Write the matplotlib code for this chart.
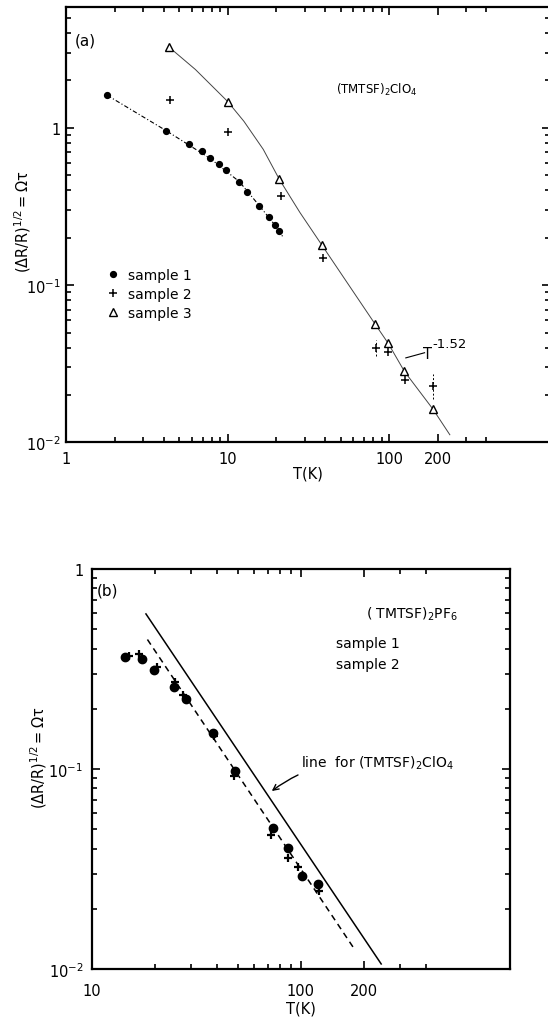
import matplotlib
matplotlib.use("Agg")
import matplotlib.pyplot as plt
from matplotlib.ticker import FixedLocator, FixedFormatter, NullFormatter, LogLocator

plt.rcParams["font.family"] = ["DejaVu Sans"]
plt.rcParams["mathtext.default"] = "regular"

# ── panel (a): (TMTSF)2ClO4 ─────────────────────────────────────────────
a_s1_T = [1.79, 4.15, 5.73, 6.89, 7.76, 8.79, 9.75, 11.8, 13.1, 15.7, 17.9, 19.7, 20.9]
a_s1_v = [1.61, 0.96, 0.79, 0.71, 0.64, 0.585, 0.54, 0.455, 0.39, 0.32, 0.273, 0.241, 0.222]
a_s2_T = [4.36, 10.1, 21.4, 38.7, 82.4, 98.0, 126.0, 187.0]
a_s2_v = [1.50, 0.94, 0.37, 0.149, 0.040, 0.0375, 0.0248, 0.023]
a_s3_T = [4.31, 9.99, 20.9, 38.3, 81.5, 98.6, 124.5, 187.0]
a_s3_v = [3.27, 1.47, 0.47, 0.18, 0.057, 0.0428, 0.0283, 0.0163]

# drawn guide lines
a_fit1_T = [1.79, 4.15, 7.76, 11.8, 15.7, 20.9, 22.1]
a_fit1_v = [1.61, 0.96, 0.64, 0.455, 0.32, 0.222, 0.20]
a_fit3_T = [4.31, 6.3, 9.99, 12.6, 16.6, 20.9, 28.0, 38.3, 81.5, 98.6, 124.5, 187.0, 238.0]
a_fit3_v = [3.27, 2.35, 1.47, 1.10, 0.73, 0.47, 0.29, 0.18, 0.057, 0.0428, 0.0283, 0.0163, 0.0112]

# vertical uncertainty bars on sample 2
a_err_T = [82.4, 187.0]
a_err_lo = [0.0357, 0.0189]
a_err_hi = [0.0446, 0.0273]

# ── panel (b): (TMTSF)2PF6 ──────────────────────────────────────────────
b_s1_T = [14.4, 17.4, 19.9, 24.8, 28.3, 38.2, 48.5, 73.4, 87.3, 102.0, 121.6]
b_s1_v = [0.361, 0.354, 0.313, 0.257, 0.225, 0.151, 0.098, 0.0505, 0.0405, 0.0292, 0.0267]
b_s2_T = [15.1, 16.9, 20.5, 25.1, 27.5, 38.5, 48.2, 71.9, 87.3, 97.5, 123.0]
b_s2_v = [0.368, 0.375, 0.325, 0.272, 0.234, 0.147, 0.0925, 0.0468, 0.036, 0.0322, 0.0245]

b_fit_T = [18.5, 178.0]
b_fit_v = [0.444, 0.0129]
b_clo4_T = [18.2, 243.0]
b_clo4_v = [0.596, 0.0106]

YLABEL = r"$(\Delta R/R)^{1/2} = \Omega\tau$"


def style_axes(ax, xmajor, xlabels, xminor, xpad, ypad):
    ax.set_xscale("log"); ax.set_yscale("log")
    ax.xaxis.set_major_locator(FixedLocator(xmajor))
    ax.xaxis.set_major_formatter(FixedFormatter(xlabels))
    ax.xaxis.set_minor_locator(FixedLocator(xminor))
    ax.xaxis.set_minor_formatter(NullFormatter())
    ax.yaxis.set_major_locator(FixedLocator([0.01, 0.1, 1]))
    ax.yaxis.set_major_formatter(FixedFormatter([r"$10^{-2}$", r"$10^{-1}$", "1"]))
    ax.yaxis.set_minor_locator(LogLocator(base=10, subs=range(2, 10)))
    ax.yaxis.set_minor_formatter(NullFormatter())
    ax.tick_params(which="both", direction="in", top=True, right=True, width=1.2)
    ax.tick_params(which="major", length=6)
    ax.tick_params(which="minor", length=3.5)
    ax.tick_params(axis="x", pad=xpad, labelsize=10.5)
    ax.tick_params(axis="y", pad=ypad, labelsize=10.5)
    for sp in ax.spines.values():
        sp.set_linewidth(1.6)


fig = plt.figure(figsize=(5.48, 10.2), dpi=100)

# ── (a) ──
ax = fig.add_axes([66.4 / 548, 0.5652, 484.0 / 548, 0.4267])
ax.plot(a_fit1_T, a_fit1_v, color="black", lw=0.8, ls=(0, (4, 2, 1, 2)))
ax.plot(a_fit3_T, a_fit3_v, color="#444444", lw=0.7)
for t, lo, hi in zip(a_err_T, a_err_lo, a_err_hi):
    ax.plot([t, t], [lo, hi], color="black", lw=0.7, ls=(0, (2, 2)))
ax.plot(a_s1_T, a_s1_v, "o", color="black", ms=4.2, ls="none", label="sample 1")
ax.plot(a_s2_T, a_s2_v, "+", color="black", ms=5.5, mew=1.1, ls="none", label="sample 2")
ax.plot(a_s3_T, a_s3_v, "^", mfc="white", mec="black", ms=5.5, mew=1.0, ls="none", label="sample 3")
ax.set_xlim(1, 1000); ax.set_ylim(0.01, 5.84)
style_axes(ax, [1, 10, 100, 200], ["1", "10", "100", "200"],
           [2, 3, 4, 5, 6, 7, 8, 9, 20, 30, 40, 50, 60, 70, 80, 90, 300, 400], 6, 4)
ax.set_xlabel("T(K)", fontsize=10.5, labelpad=0)
ax.set_ylabel(YLABEL, fontsize=10.5)
ax.yaxis.set_label_coords(-0.069, 0.51)
ax.text(1.13, 3.62, "(a)", fontsize=11, ha="left", va="center")
ax.text(47, 1.77, r"(TMTSF)$_2$ClO$_4$", fontsize=8.5, ha="left", va="center")
ax.plot([127, 166], [0.0345, 0.0372], color="black", lw=0.8)
ax.text(162, 0.0367, "T", fontsize=10.5, ha="left", va="center")
ax.text(185, 0.0425, "-1.52", fontsize=9.5, ha="left", va="center")
ax.legend(loc="upper left", bbox_to_anchor=(0.087, 0.402), frameon=False, fontsize=10,
          handlelength=0.7, handletextpad=0.7, labelspacing=0.38, borderpad=0,
          borderaxespad=0)

# ── (b) ──
bx = fig.add_axes([91.6 / 548, 0.0490, 418 / 548, 0.3922])
bx.plot(b_clo4_T, b_clo4_v, color="black", lw=1.1)
bx.plot(b_fit_T, b_fit_v, color="black", lw=1.1, ls=(0, (4, 3)))
bx.plot(b_s1_T, b_s1_v, "o", color="black", ms=6, ls="none")
bx.plot(b_s2_T, b_s2_v, "+", color="black", ms=6, mew=1.6, ls="none")
bx.set_xlim(10, 1000); bx.set_ylim(0.01, 1)
style_axes(bx, [10, 100, 200], ["10", "100", "200"],
           [20, 30, 40, 50, 60, 70, 80, 90, 300, 400], 10, 6)
bx.set_xlabel("T(K)", fontsize=10.5, labelpad=2)
bx.set_ylabel(YLABEL, fontsize=10.5)
bx.yaxis.set_label_coords(-0.102, 0.53)
bx.text(10.6, 0.788, "(b)", fontsize=11, ha="left", va="center")
bx.text(566, 0.6, r"( TMTSF)$_2$PF$_6$", fontsize=10, ha="right", va="center")
bx.text(147, 0.428, "sample 1", fontsize=10, ha="left", va="center")
bx.text(147, 0.334, "sample 2", fontsize=10, ha="left", va="center")
bx.annotate(r"line  for (TMTSF)$_2$ClO$_4$", xy=(72.8, 0.0776), xytext=(100.7, 0.108),
            fontsize=10, ha="left", va="center",
            arrowprops=dict(arrowstyle="->", color="black", lw=1.0,
                            connectionstyle="arc3,rad=0.2", shrinkA=2, shrinkB=0))

fig.savefig("out.png", dpi=100)
